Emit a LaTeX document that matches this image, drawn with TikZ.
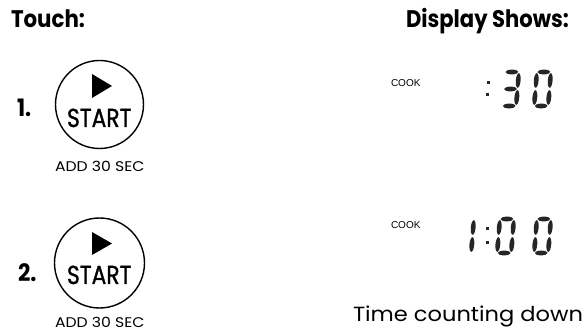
\documentclass[tikz,border=0pt]{standalone}
\usepackage{fontspec}
\newfontfamily\popfont{Poppins}
\newfontfamily\popmed[FakeBold=1.2]{Poppins}
\newfontfamily\arialfont{Liberation Sans}
\tikzset{
  lbl/.style={inner sep=0pt, outer sep=0pt, anchor=base west},
  head/.style={lbl, font=\popfont\bfseries\fontsize{24}{24}\selectfont},
  num/.style={lbl, font=\popfont\bfseries\fontsize{24}{24}\selectfont},
  btn/.style={draw, circle, line width=1.4pt, inner sep=0pt},
  sub/.style={lbl, font=\popfont\fontsize{14}{14}\selectfont},
  cook/.style={lbl, font=\arialfont\fontsize{10}{10}\selectfont},
  startlbl/.style={lbl, font=\popmed\fontsize{26}{26}\selectfont},
  segfill/.style={fill=black!85},
}
\newcommand\segA{\fill[segfill] (9,36) ellipse (6.4 and 2.4);}
\newcommand\segB{\fill[segfill] (16,27.5) ellipse (2.4 and 7.3);}
\newcommand\segC{\fill[segfill] (16,10.5) ellipse (2.4 and 7.3);}
\newcommand\segD{\fill[segfill] (9,2) ellipse (6.4 and 2.4);}
\newcommand\segE{\fill[segfill] (2,10.5) ellipse (2.4 and 7.3);}
\newcommand\segF{\fill[segfill] (2,27.5) ellipse (2.4 and 7.3);}
\newcommand\segG{\fill[segfill] (9,19) ellipse (6.4 and 2.4);}
\newcommand\digit[2]{\begin{scope}[shift={#1}, x=1pt, y=1pt, xslant=0.08]#2\end{scope}}
\begin{document}
\begin{tikzpicture}[x=1pt,y=-1pt]
\useasboundingbox (0,0) rectangle (587,331);
% headers
\node[head] (touch) at (11,28) {\scalebox{0.89}[1]{Touch:}};
\node[head] (disp) at (406,28) {\scalebox{0.88}[1]{Display Shows:}};
% step 1
\node[num] (n1) at (17,117) {\scalebox{0.9}[1]{1.}};
\node[btn, minimum size=88pt] (b1) at (99.5,104.5) {};
\fill (92,74) -- (92,98) -- (112,86) -- cycle;
\node[startlbl] (s1) at (67,127) {\scalebox{0.84}[1]{START}};
\node[sub] (a1) at (55,172) {\scalebox{1.12}[1]{ADD 30 SEC}};
% step 2
\node[num] (n2) at (18,282) {\scalebox{0.9}[1]{2.}};
\node[btn, minimum size=90pt] (b2) at (99.5,263) {};
\fill (92,232) -- (92,255) -- (112,243.5) -- cycle;
\node[startlbl] (s2) at (67,284) {\scalebox{0.84}[1]{START}};
\node[sub] (a2) at (55,327.5) {\scalebox{1.12}[1]{ADD 30 SEC}};
% display 1
\node[cook] (c1) at (391,87) {COOK};
\fill[segfill] (486.5,81.5) rectangle +(3,3);
\fill[segfill] (485.5,93.5) rectangle +(3,3);
\digit{(500,108)}{\segA\segB\segC\segD\segG}
\digit{(532,108)}{\segA\segB\segC\segD\segE\segF}
% display 2
\node[cook] (c2) at (391,229) {COOK};
\digit{(455,255)}{\segB\segC}
\fill[segfill] (485.5,227.5) rectangle +(3,3);
\fill[segfill] (485.5,241.5) rectangle +(3,3);
\digit{(495,255)}{\segA\segB\segC\segD\segE\segF}
\digit{(532,255)}{\segA\segB\segC\segD\segE\segF}
\node[lbl, font=\popfont\fontsize{20.5}{20.5}\selectfont] (tc) at (353,322) {\scalebox{1.1}[1]{Time counting down}};
\end{tikzpicture}
\end{document}
